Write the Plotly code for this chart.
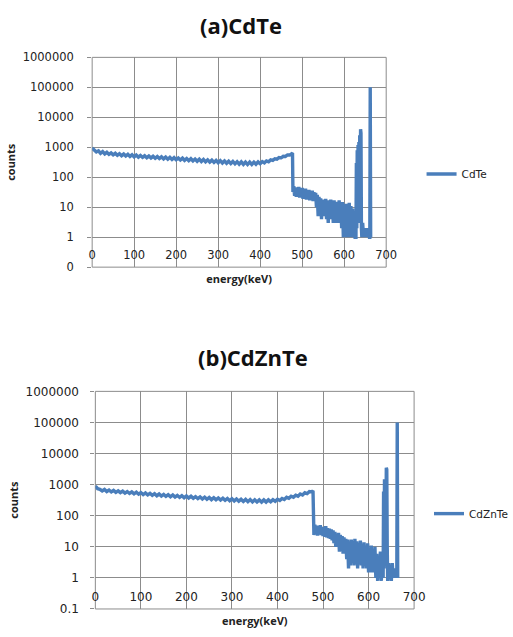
import plotly.graph_objects as go

# ---------------- data ----------------
# CdTe spectrum: energy (keV) and counts
cdte_energy = [
    0, 5, 10, 15, 20, 25, 30, 35, 40, 45, 50, 55, 60, 65, 70, 75, 80, 85, 90, 95,
    100, 105, 110, 115, 120, 125, 130, 135, 140, 145, 150, 155, 160, 165, 170, 175, 180, 185, 190, 195,
    200, 205, 210, 215, 220, 225, 230, 235, 240, 245, 250, 255, 260, 265, 270, 275, 280, 285, 290, 295,
    300, 305, 310, 315, 320, 325, 330, 335, 340, 345, 350, 355, 360, 365, 370, 375, 380, 385, 390, 395,
    400, 405, 410, 415, 420, 425, 430, 435, 440, 445, 450, 455, 460, 465, 470, 475, 477,
    478, 480, 482, 484, 486, 488, 490, 492, 494, 496, 498, 500, 502, 504, 506, 508, 510, 512, 514, 516,
    518, 520, 522, 524, 526, 528, 530, 532, 534, 536, 538, 540, 542, 544, 546, 548, 550, 552, 554, 556,
    558, 560, 562, 564, 566, 568, 570, 572, 574, 576, 578, 580, 582, 584, 586, 588, 590, 592, 594, 596,
    598, 600, 602, 604, 606, 608, 610, 612, 614, 616, 618, 620, 622, 624, 626, 628,
    629, 630, 631, 632, 633, 634, 635, 636, 637, 638, 639, 640, 641, 642, 644, 646, 648, 650, 652, 654,
    656, 658, 660, 661, 662, 663,
]
cdte_counts = [
    950, 780, 700, 760, 630, 720, 600, 680, 580, 650, 560, 630, 540, 610, 525, 595, 510, 580, 495, 565,
    480, 550, 470, 535, 460, 520, 450, 510, 440, 500, 430, 490, 420, 480, 410, 470, 400, 460, 392, 450,
    385, 440, 375, 432, 367, 422, 358, 415, 350, 405, 342, 398, 335, 390, 328, 380, 320, 372, 313, 365,
    306, 358, 300, 350, 293, 343, 286, 336, 280, 330, 273, 326, 268, 322, 266, 320, 267, 320, 272, 325,
    282, 332, 300, 352, 330, 380, 365, 415, 400, 455, 445, 500, 495, 555, 550, 610, 590,
    32, 50, 24, 46, 22, 44, 25, 48, 21, 40, 23, 44, 19, 38, 22, 42, 18, 36, 21, 38,
    17, 34, 19, 36, 16, 32, 17, 30, 10, 26, 5, 22, 6, 20, 4, 18, 5, 17, 7, 19,
    4, 17, 3, 16, 6, 18, 4, 15, 3, 17, 5, 15, 3, 14, 4, 17, 3, 13, 2, 15,
    1, 10, 1, 13, 1, 8, 1, 14, 1, 11, 1, 9, 1, 7, 1, 1,
    300, 2, 800, 5, 1200, 3, 1500, 10, 2500, 20, 4000, 3000, 2, 1, 3, 1, 2, 1, 2, 1,
    2, 1, 1, 1, 100000, 1,
]

# CdZnTe spectrum: energy (keV) and counts
czt_energy = [
    0, 5, 10, 15, 20, 25, 30, 35, 40, 45, 50, 55, 60, 65, 70, 75, 80, 85, 90, 95,
    100, 105, 110, 115, 120, 125, 130, 135, 140, 145, 150, 155, 160, 165, 170, 175, 180, 185, 190, 195,
    200, 205, 210, 215, 220, 225, 230, 235, 240, 245, 250, 255, 260, 265, 270, 275, 280, 285, 290, 295,
    300, 305, 310, 315, 320, 325, 330, 335, 340, 345, 350, 355, 360, 365, 370, 375, 380, 385, 390, 395,
    400, 405, 410, 415, 420, 425, 430, 435, 440, 445, 450, 455, 460, 465, 470, 475, 478,
    479,
    480, 482, 484, 486, 488, 490, 492, 494, 496, 498, 500, 502, 504, 506, 508, 510, 512, 514, 516, 518,
    520, 522, 524, 526, 528, 530, 532, 534, 536, 538, 540, 542, 544, 546, 548, 550, 552, 554, 556, 558,
    560, 562, 564, 566, 568, 570, 572, 574, 576, 578, 580, 582, 584, 586, 588, 590, 592, 594, 596, 598,
    600, 602, 604, 606, 608, 610, 612, 614, 616, 618, 620, 622, 624, 626, 628, 630, 632,
    633, 634, 635, 636, 637, 638, 639, 640, 641, 642, 644, 646, 648, 650, 652, 654, 656, 658, 660, 662,
    663, 664,
]
czt_counts = [
    900, 740, 710, 630, 700, 600, 670, 580, 650, 565, 630, 550, 615, 535, 600, 520, 585, 505, 570, 492,
    555, 480, 540, 466, 525, 452, 510, 440, 498, 430, 485, 418, 475, 408, 465, 398, 452, 388, 442, 380,
    432, 372, 422, 362, 412, 354, 404, 346, 396, 338, 388, 330, 380, 324, 372, 318, 365, 312, 358, 305,
    352, 300, 346, 294, 340, 288, 335, 282, 330, 278, 326, 276, 323, 274, 322, 275, 323, 280, 328, 290,
    338, 308, 360, 332, 390, 362, 422, 392, 458, 426, 498, 465, 545, 512, 595, 580, 630,
    45,
    24, 52, 26, 48, 23, 46, 27, 50, 24, 44, 22, 42, 21, 46, 20, 40, 19, 38, 18, 36,
    16, 34, 13, 30, 10, 26, 12, 28, 7, 24, 10, 22, 6, 20, 8, 18, 4, 17, 2, 15,
    2.5, 17, 5, 15, 2.5, 18, 4, 15, 2, 13, 3, 16, 2.5, 12, 2, 14, 2.5, 10, 2, 13,
    1.5, 9, 1.5, 11, 1.5, 8, 1.5, 10, 1, 6, 0.8, 5, 1, 7, 0.8, 4, 1,
    600, 2, 1500, 5, 1200, 20, 3500, 3000, 10, 0.8, 3, 1, 2, 0.8, 3, 1, 2, 1, 2, 1,
    100000, 1,
]

# log-axis decades and their labels
top_tickvals = [0.1, 1, 10, 100, 1000, 10000, 100000, 1000000]
top_ticktext = ["0", "1", "10", "100", "1000", "10000", "100000", "1000000"]
bot_tickvals = [0.1, 1, 10, 100, 1000, 10000, 100000, 1000000]
bot_ticktext = ["0.1", "1", "10", "100", "1000", "10000", "100000", "1000000"]
energy_ticks = [0, 100, 200, 300, 400, 500, 600, 700]

# ---------------- layout geometry ----------------
W, H = 513, 637
LINE = "#4a7ebb"
GRID = "#8c8c8c"
TITLE_FONT = dict(family="Open Sans", size=11, color="#222222")


def px_x(p):
    return p / W


def px_y(p):
    return 1 - p / H


top_xdom = [px_x(91), px_x(394.5)]
top_ydom = [px_y(266), px_y(51.5)]
bot_xdom = [px_x(94.3), px_x(423.3)]
bot_ydom = [px_y(615.5), px_y(393)]

# the energy axis crosses the counts axis at counts = 1 (one decade above 0.1)
top_xpos = top_ydom[0] + (top_ydom[1] - top_ydom[0]) / 7
bot_xpos = bot_ydom[0] + (bot_ydom[1] - bot_ydom[0]) / 7

fig = go.Figure()
fig.add_trace(go.Scatter(
    x=cdte_energy, y=cdte_counts, mode="lines", name="CdTe", showlegend=True,
    line=dict(color=LINE, width=3.4), xaxis="x", yaxis="y", legend="legend",
))
fig.add_trace(go.Scatter(
    x=czt_energy, y=czt_counts, mode="lines", name="CdZnTe", showlegend=True,
    line=dict(color=LINE, width=3.4), xaxis="x2", yaxis="y2", legend="legend2",
))


def xaxis_style(domain, pos, fsize, standoff, title_standoff):
    return dict(
        domain=domain, anchor="free", position=pos,
        range=[0, 700], tickvals=energy_ticks, ticks="", showline=False,
        showgrid=True, gridcolor=GRID, gridwidth=1, zeroline=False,
        tickfont=dict(family="DejaVu Sans", size=fsize, color="#222222"),
        ticklabelstandoff=standoff,
        title=dict(text="<b>energy(keV)</b>", font=TITLE_FONT, standoff=title_standoff),
    )


def yaxis_style(domain, anchor, vals, text, fsize, standoff):
    return dict(
        domain=domain, anchor=anchor, type="log", range=[-1, 6],
        tickvals=vals, ticktext=text, ticks="outside", ticklen=4, tickcolor=GRID,
        showgrid=True, gridcolor=GRID, gridwidth=1, zeroline=False,
        showline=False, ticklabelstandoff=standoff,
        tickfont=dict(family="DejaVu Sans", size=fsize, color="#222222"),
        title=dict(text="<b>counts</b>", font=TITLE_FONT, standoff=4),
    )


fig.update_layout(
    width=W, height=H,
    margin=dict(l=0, r=0, t=0, b=0),
    paper_bgcolor="white", plot_bgcolor="white",
    showlegend=True,
    xaxis=xaxis_style(top_xdom, top_xpos, 11.5, 9, 14),
    yaxis=yaxis_style(top_ydom, "x", top_tickvals, top_ticktext, 11.5, 11),
    xaxis2=xaxis_style(bot_xdom, bot_xpos, 12, 10, 14),
    yaxis2=yaxis_style(bot_ydom, "x2", bot_tickvals, bot_ticktext, 12, 9),
    legend=dict(x=px_x(431), y=px_y(170.7), xanchor="left", yanchor="middle",
                font=dict(family="DejaVu Sans", size=10.5, color="#222222"),
                bgcolor="rgba(0,0,0,0)"),
    legend2=dict(x=px_x(439), y=px_y(518), xanchor="left", yanchor="middle",
                 font=dict(family="DejaVu Sans", size=10.5, color="#222222"),
                 bgcolor="rgba(0,0,0,0)"),
    annotations=[
        dict(text="<b>(a)CdTe</b>", x=px_x(245), y=px_y(18), xref="paper", yref="paper",
             showarrow=False, xanchor="center", yanchor="middle",
             font=dict(family="Open Sans", size=22, color="#111111")),
        dict(text="<b>(b)CdZnTe</b>", x=px_x(257), y=px_y(358.3), xref="paper", yref="paper",
             showarrow=False, xanchor="center", yanchor="middle",
             font=dict(family="Open Sans", size=22, color="#111111")),
    ],
    shapes=[
        dict(type="rect", xref="x domain", yref="y domain", x0=0, x1=1, y0=0, y1=1,
             line=dict(color=GRID, width=1), layer="below"),
        dict(type="rect", xref="x2 domain", yref="y2 domain", x0=0, x1=1, y0=0, y1=1,
             line=dict(color=GRID, width=1), layer="below"),
    ],
)

fig.write_html("out.html")
